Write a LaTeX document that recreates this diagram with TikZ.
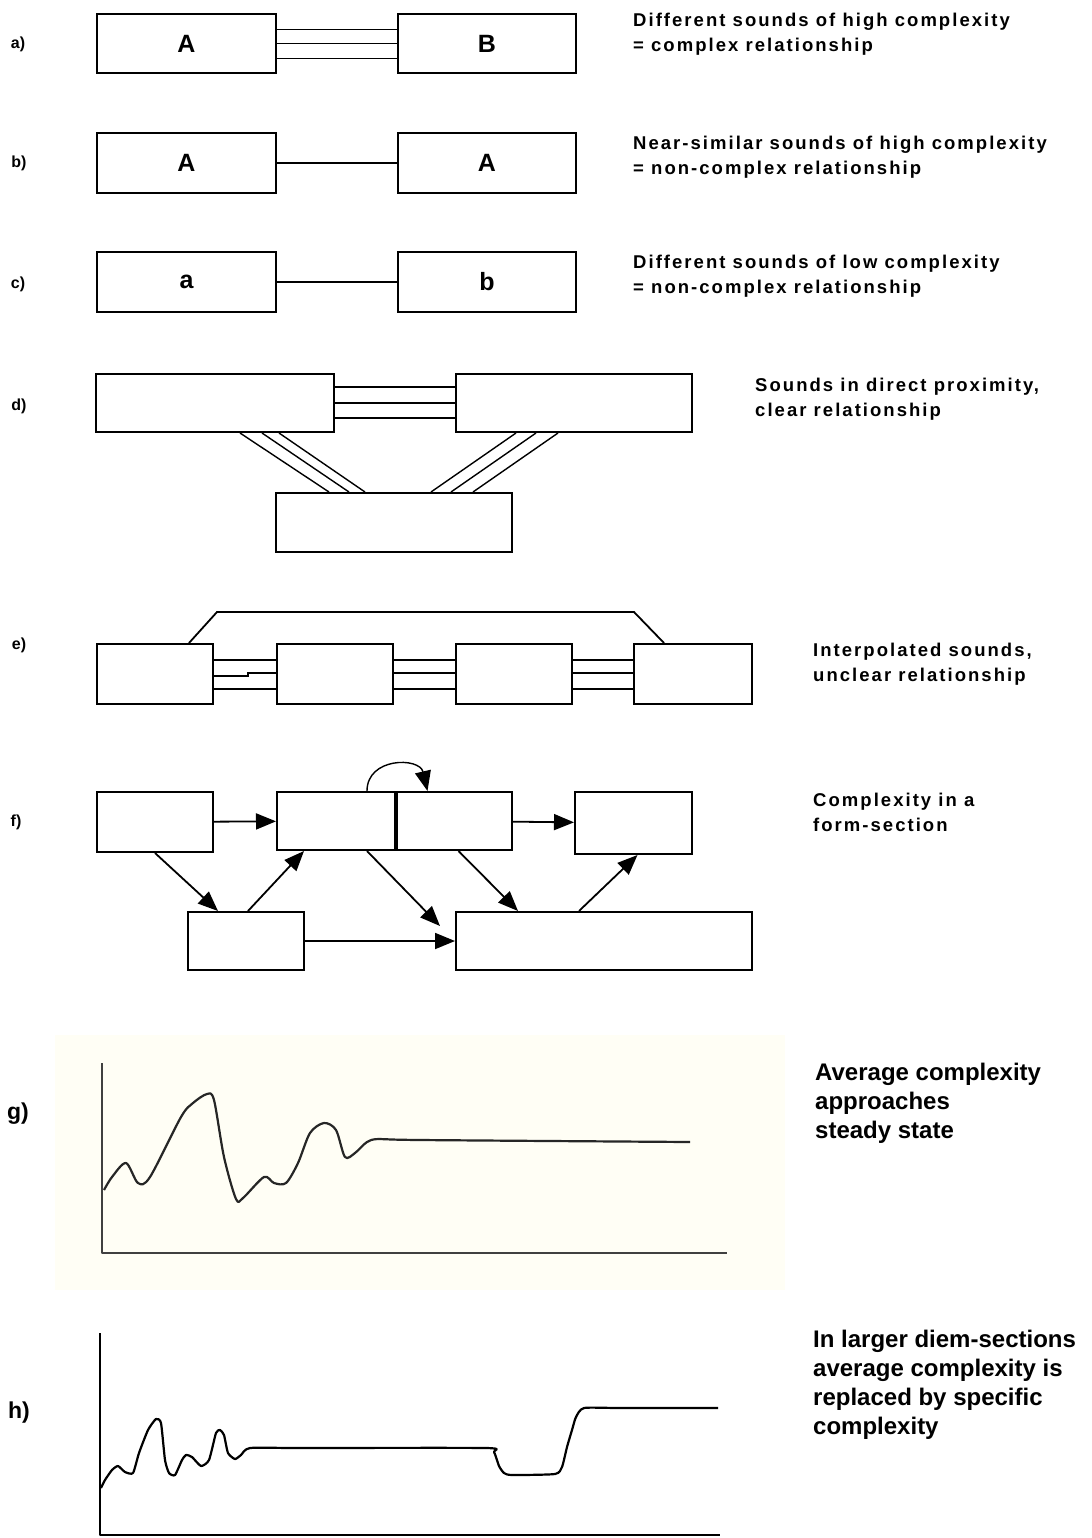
\documentclass[tikz,border=0pt]{standalone}
\usepackage{fontspec}
\setmainfont{Liberation Sans}
\newfontfamily\notefont[LetterSpace=11]{Liberation Sans}
\usetikzlibrary{positioning,arrows.meta}
\definecolor{paper}{RGB}{255,254,245}
\tikzset{%
  sound/.style={
    draw,
    line width=2bp,
    inner sep=0pt,
    minimum height=59bp,
    font=\bfseries\fontsize{25bp}{25bp}\selectfont
  },
  note/.style={
    anchor=north west,
    inner sep=0pt,
    align=left,
    font=\notefont\bfseries\fontsize{18.5bp}{25bp}\selectfont
  },
  bignote/.style={
    anchor=north west,
    inner sep=0pt,
    align=left,
    font=\bfseries\fontsize{24bp}{29bp}\selectfont
  },
  tag/.style={
    inner sep=0pt,
    font=\bfseries\fontsize{16bp}{16bp}\selectfont
  },
}

\begin{document}
\begin{tikzpicture}[x=1bp,y=-1bp,>={Triangle[length=20bp,width=16bp]}]
        \tikzstyle{link}=[line width=1.8bp]
        \tikzstyle{thinlink}=[line width=1.4bp]
        \tikzstyle{curve}=[line width=2.2bp,line join=round,black!85]
        \useasboundingbox (0,0) rectangle (1091,1538);
        \fill[white] (0,0) rectangle (1091,1538);

        % a) b) c)
        \node[sound,minimum width=179bp] (a1) at (186.5,43.5) {A};
        \node[sound,minimum width=178bp,right=120bp of a1] (a2) {B};
        \node[sound,minimum width=179bp] (b1) at (186.5,163) {A};
        \node[sound,minimum width=178bp,right=120bp of b1] (b2) {A};
        \node[sound,minimum width=179bp,minimum height=60bp] (c1) at (186.5,282) {a};
        \node[sound,minimum width=178bp,minimum height=60bp,right=120bp of c1] (c2) {b};

        \foreach \dy in {14,0,-15}
          \draw[link] ([yshift=\dy bp]a1.east) -- ([yshift=\dy bp]a2.west);
        \draw[link] (b1) -- (b2);
        \draw[link] (c1) -- (c2);

        \node[tag] (taga) at (18,44) {a)};
        \node[tag] (tagb) at (19,163) {b)};
        \node[tag] (tagc) at (18,284) {c)};
        \node[note] (notea) at (633,13) {Different sounds of high complexity\\= complex relationship};
        \node[note] (noteb) at (633,136) {Near-similar sounds of high complexity\\= non-complex relationship};
        \node[note] (notec) at (633,255) {Different sounds of low complexity\\= non-complex relationship};

        % d)
        \node[sound,minimum width=238bp,minimum height=58bp] (d1) at (215,403) {};
        \node[sound,minimum width=236bp,minimum height=58bp] (d2) at (574,403) {};
        \node[sound,minimum width=236bp] (d3) at (394,522.5) {};
        \foreach \dy in {16,0,-15}
          \draw[link] ([yshift=\dy bp]d1.east) -- ([yshift=\dy bp]d2.west);
        \foreach \a/\b in {25/-65,47/-45,64/-29}
          \draw[thinlink] ([xshift=\a bp]d1.south) -- ([xshift=\b bp]d3.north);
        \foreach \a/\b in {-58/37,-38/57,-16/79}
          \draw[thinlink] ([xshift=\a bp]d2.south) -- ([xshift=\b bp]d3.north);
        \node[tag] (tagd) at (19,406) {d)};
        \node[note] (noted) at (755,378) {Sounds in direct proximity,\\clear relationship};

        % e)
        \node[sound,minimum width=116bp,minimum height=60bp] (e1) at (155,674) {};
        \node[sound,minimum width=116bp,minimum height=60bp] (e2) at (335,674) {};
        \node[sound,minimum width=116bp,minimum height=60bp] (e3) at (514,674) {};
        \node[sound,minimum width=118bp,minimum height=60bp] (e4) at (693,674) {};
        \foreach \l/\r in {e1/e2,e2/e3,e3/e4}
          \foreach \dy in {14,-15}
            \draw[link] ([yshift=\dy bp]\l.east) -- ([yshift=\dy bp]\r.west);
        \draw[link] ([yshift=-2bp]e1.east) -- ([xshift=34bp,yshift=-2bp]e1.east)
          -- ([xshift=-28bp,yshift=1bp]e2.west) -- ([yshift=1bp]e2.west);
        \foreach \l/\r in {e2/e3,e3/e4}
          \draw[link] ([yshift=1bp]\l.east) -- ([yshift=1bp]\r.west);
        \draw[link] ([xshift=34bp]e1.north) -- ([xshift=62bp,yshift=31bp]e1.north)
          -- ([xshift=-59bp,yshift=31bp]e4.north) -- ([xshift=-29bp]e4.north);
        \node[tag] (tage) at (19,645) {e)};
        \node[note] (notee) at (813,643) {Interpolated sounds,\\unclear relationship};

        % f)
        \node[sound,minimum width=116bp,minimum height=60bp] (f1) at (155,822) {};
        \node[sound,minimum width=118bp,minimum height=58bp] (f2) at (336,821) {};
        \node[sound,minimum width=117bp,minimum height=58bp] (f3) at (453.5,821) {};
        \node[sound,minimum width=117bp,minimum height=62bp] (f4) at (633.5,823) {};
        \node[sound,minimum width=116bp,minimum height=58bp] (f5) at (246,941) {};
        \node[sound,minimum width=296bp,minimum height=58bp] (f6) at (604,941) {};
        \draw[line width=3.4bp] (f2.north east) -- (f2.south east);

        \draw[link,->] (f1) -- (f2);
        \draw[link,->] (f1.south) -- ([xshift=-28bp]f5.north);
        \draw[link,->] ([xshift=2bp]f5.north) -- ([xshift=-32bp]f2.south);
        \draw[link,->] ([xshift=31bp]f2.south) -- ([xshift=-15bp,yshift=-15bp]f6.north west);
        \draw[link,->] ([xshift=5bp]f3.south) -- ([xshift=-86bp]f6.north);
        \draw[link,->] (f5) -- (f6);
        \draw[link,->] (f3) -- (f4);
        \draw[link,->] ([xshift=-25bp]f6.north) -- ([xshift=4bp]f4.south);
        \draw[thinlink,->] ([xshift=31bp]f2.north) .. controls +(0,-34) and +(-8,-34) .. ([xshift=-26bp]f3.north);
        \node[tag] (tagf) at (16,822) {f)};
        \node[note] (notef) at (813,793) {Complexity in a\\form-section};

        % g)
        \fill[paper] (55,1035) rectangle (785,1290);
        \draw[curve,line width=1.8bp,black!75] (102,1063) -- (102,1253) -- (727,1253);
        \draw[curve] plot[smooth,tension=0.5] coordinates {(104,1190) (112,1177) (126,1163)
          (138,1183) (150,1177) (181,1117) (193,1103) (207,1094) (214,1100) (224,1157)
          (236,1199) (243,1198) (264,1177) (274,1183) (286,1183) (298,1163) (310,1133)
          (324,1123) (336,1130) (345,1157) (355,1153) (367,1142) (379,1139) (420,1140) (690,1142)};
        \node[tag,font=\bfseries\fontsize{23bp}{23bp}\selectfont] (tagg) at (18,1114) {g)};
        \node[bignote] (noteg) at (815,1063) {Average complexity\\approaches\\steady state};

        % h)
        \draw[curve,line width=2.8bp,black] (100,1333) -- (100,1535) -- (720,1535);
        \draw[curve,black] plot[smooth,tension=0.35] coordinates {(101,1488) (105,1480) (112,1470)
          (118,1466) (125,1472) (133,1473) (139,1453) (148,1430) (156,1419) (161,1423)
          (165,1460) (169,1473) (175,1475) (182,1460) (186,1455) (192,1457) (201,1466)
          (209,1460) (216,1433) (220,1430) (224,1435) (228,1453) (235,1459) (241,1455)
          (250,1448) (300,1448) (486,1448) (494,1452) (499,1466) (504,1473) (512,1475)
          (555,1474) (562,1467) (567,1447) (572,1430) (576,1417) (584,1408) (620,1408) (718,1408)};
        \node[tag,font=\bfseries\fontsize{23bp}{23bp}\selectfont] (tagh) at (19,1413) {h)};
        \node[bignote] (noteh) at (813,1330) {In larger diem-sections\\average complexity is\\replaced by specific\\complexity};
\end{tikzpicture}
\end{document}
